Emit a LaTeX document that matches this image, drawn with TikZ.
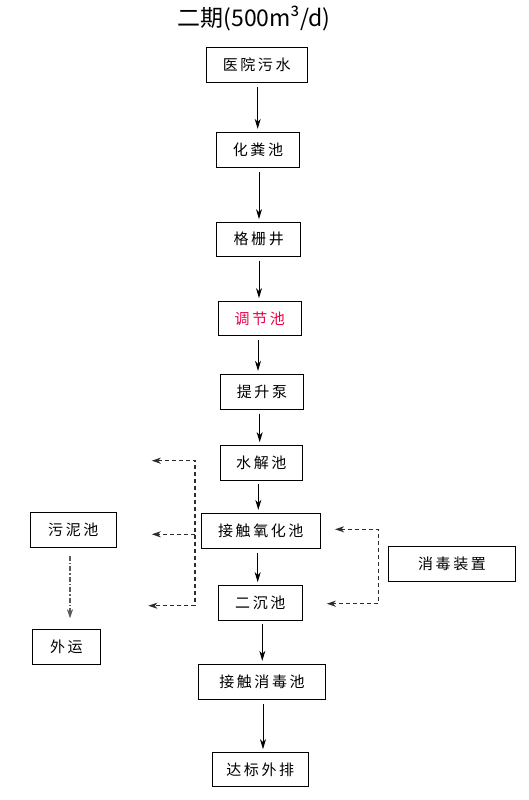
\documentclass[tikz,border=0pt]{standalone}
\usepackage{fontspec}
\setmainfont{Noto Sans CJK SC}
\usetikzlibrary{arrows.meta}
\definecolor{keyred}{RGB}{235,0,70}
\definecolor{dashgray}{RGB}{45,45,45}
\definecolor{dotgray}{RGB}{90,90,90}
\newcommand\cjsp{\hspace{2.6pt}}
\begin{document}
\begin{tikzpicture}[x=1pt,y=-1pt,
  stagebox/.style={draw=black, line width=0.9pt, inner sep=0pt, font=\fontsize{15}{15}\selectfont},
  flow/.style={draw=black, line width=1pt, shorten <=4pt, shorten >=3pt,
    -{Stealth[length=10pt,width=6pt,inset=3pt]}},
  ret/.style={draw=dashgray, line width=1.3pt, dash pattern=on 4pt off 3pt},
  rettip/.style={{Stealth[length=9pt,width=6pt,inset=2.5pt]}-{Stealth[length=9pt,width=6pt,inset=2.5pt]}},
  sludge/.style={draw=dotgray, line width=1.3pt, dash pattern=on 5pt off 2pt on 1.5pt off 2pt,
    -{Stealth[length=9pt,width=6pt,inset=2.5pt]}}
]
\useasboundingbox (0,0) rectangle (529,800);

\node[font=\fontsize{23}{23}\selectfont] (title) at (254,19) {二期(500m³/d)};

\node[stagebox, minimum width=101pt, minimum height=35pt] (yy) at (256.7,64.7) {医\cjsp 院\cjsp 污\cjsp 水};
\node[stagebox, minimum width=82.6pt, minimum height=35pt] (hf) at (258,149.8) {化\cjsp 粪\cjsp 池};
\node[stagebox, minimum width=84pt, minimum height=33.5pt] (gs) at (258.7,239.3) {格\cjsp 栅\cjsp 井};
\node[stagebox, minimum width=83pt, minimum height=33.5pt, text=keyred] (tj) at (259.8,318.3) {调\cjsp 节\cjsp 池};
\node[stagebox, minimum width=82.6pt, minimum height=34.7pt] (ts) at (262,391.7) {提\cjsp 升\cjsp 泵};
\node[stagebox, minimum width=82pt, minimum height=34.3pt] (sj) at (261.3,462.8) {水\cjsp 解\cjsp 池};
\node[stagebox, minimum width=119pt, minimum height=35pt] (jc) at (260.8,530.8) {接\cjsp 触\cjsp 氧\cjsp 化\cjsp 池};
\node[stagebox, minimum width=84pt, minimum height=34.3pt] (ec) at (260.3,602.8) {二\cjsp 沉\cjsp 池};
\node[stagebox, minimum width=127.4pt, minimum height=35pt] (xd) at (262,681.8) {接\cjsp 触\cjsp 消\cjsp 毒\cjsp 池};
\node[stagebox, minimum width=96pt, minimum height=33.3pt] (db) at (260.3,769.3) {达\cjsp 标\cjsp 外\cjsp 排};
\node[stagebox, minimum width=86pt, minimum height=34.6pt] (wn) at (73.3,530) {污\cjsp 泥\cjsp 池};
\node[stagebox, minimum width=68pt, minimum height=35pt] (wy) at (66.3,646.8) {外\cjsp 运};
\node[stagebox, minimum width=127.4pt, minimum height=35pt] (xz) at (452,563.5) {消\cjsp 毒\cjsp 装\cjsp 置};

% main flow
\draw[flow] ([xshift=1pt]yy.south) -- ([xshift=1pt]yy.south |- hf.north);
\draw[flow] ([xshift=1pt]hf.south) -- ([xshift=1pt]hf.south |- gs.north);
\draw[flow] ([xshift=0.3pt]gs.south) -- ([xshift=0.3pt]gs.south |- tj.north);
\draw[flow] ([xshift=-1.8pt]tj.south) -- ([xshift=-1.8pt]tj.south |- ts.north);
\draw[flow] ([xshift=-2.3pt]ts.south) -- ([xshift=-2.3pt]ts.south |- sj.north);
\draw[flow] ([xshift=-3pt]sj.south) -- ([xshift=-3pt]sj.south |- jc.north);
\draw[flow] ([xshift=-3.1pt]jc.south) -- ([xshift=-3.1pt]jc.south |- ec.north);
\draw[flow] ([xshift=2pt]ec.south) -- ([xshift=2pt]ec.south |- xd.north);
\draw[flow] ([xshift=1pt]xd.south) -- ([xshift=1pt]xd.south |- db.north);

% left return bracket (sludge)
\coordinate (lt) at (195,460.7);
\coordinate (lm) at (195,534.3);
\coordinate (lb) at (195,605.7);
\coordinate (lta) at (151.7,460.7);
\coordinate (ltb) at (151.7,534.3);
\coordinate (ltc) at (148.3,605.7);
\draw[ret, rettip] (lta) -- (lt) -- (lb) -- (ltc);
\draw[ret, -{Stealth[length=9pt,width=6pt,inset=2.5pt]}] (lm) -- (ltb);

% right bracket (disinfection)
\coordinate (rt) at (378.3,529.3);
\coordinate (rb) at (378.3,603.7);
\coordinate (rta) at (335,529.3);
\coordinate (rtb) at (326.7,603.7);
\draw[ret, rettip] (rta) -- (rt) -- (rb) -- (rtb);

% sludge out
\draw[sludge] ([xshift=-3.3pt, yshift=-8pt]wn.south) -- ([xshift=-3.3pt]wn.south |- 0,618.3);
\end{tikzpicture}
\end{document}
